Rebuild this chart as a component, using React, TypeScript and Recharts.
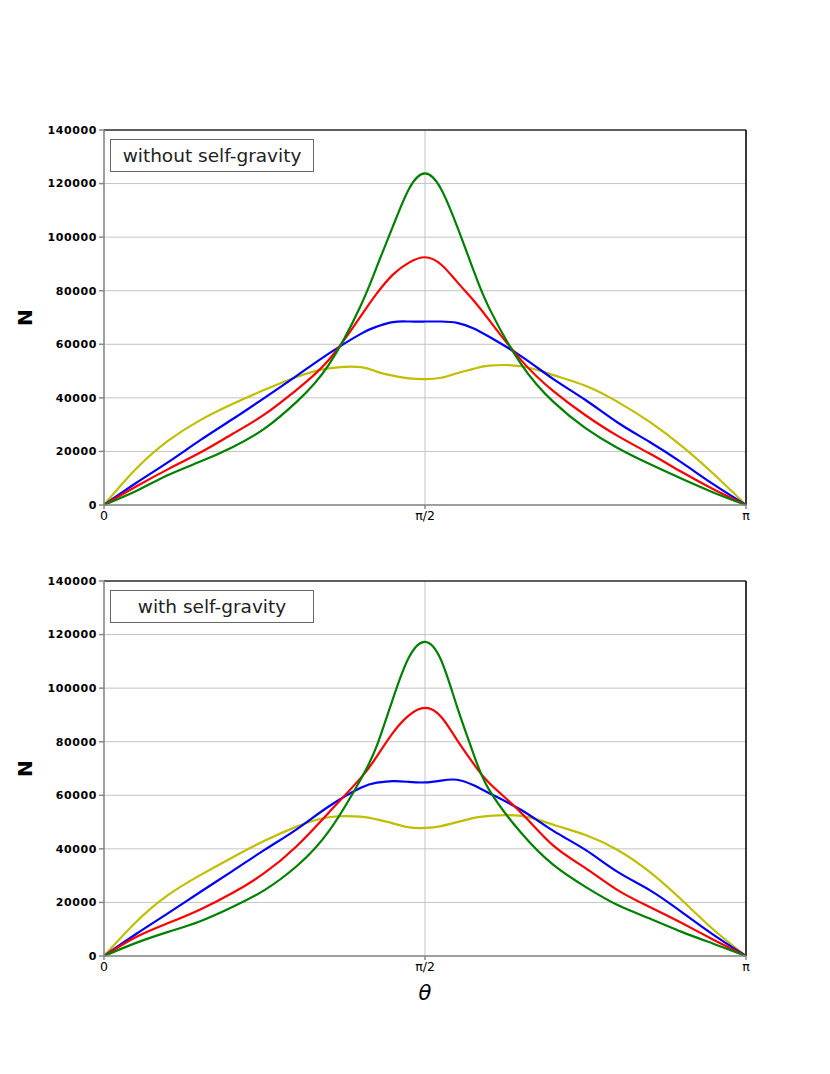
import { LineChart, Line, XAxis, YAxis, CartesianGrid, ReferenceLine } from 'recharts'

// theta in units of pi
const theta = [0, 0.05, 0.1, 0.15, 0.2, 0.25, 0.3, 0.35, 0.4, 0.425, 0.45, 0.475, 0.5, 0.525, 0.55, 0.575, 0.6, 0.65, 0.7, 0.75, 0.8, 0.85, 0.9, 0.95, 1]

// without self-gravity
const greenNoSG = [0, 5200, 11200, 16200, 21600, 28500, 38500, 52300, 74500, 89000, 104000, 118000, 123800, 118000, 104000, 88000, 73500, 52500, 38500, 28700, 21300, 15300, 9800, 4600, 0]
const redNoSG = [0, 6900, 13400, 19600, 26500, 33800, 43000, 54100, 70500, 79000, 86000, 90500, 92500, 89800, 83300, 76500, 69000, 54000, 42500, 33500, 25800, 19200, 12300, 5800, 0]
const blueNoSG = [0, 8200, 16000, 24200, 32000, 40000, 48200, 56500, 63900, 66600, 68300, 68500, 68500, 68500, 68000, 66000, 62800, 55500, 47000, 39200, 30800, 23500, 15800, 7600, 0]
const yellowNoSG = [0, 13500, 24000, 31700, 37700, 43000, 47800, 51000, 51500, 49800, 48300, 47300, 47000, 47500, 49200, 50800, 52000, 51800, 48500, 44500, 38500, 31000, 22000, 11500, 0]

// with self-gravity
const greenSG = [0, 4900, 9000, 13000, 18300, 24600, 33500, 46500, 66000, 78500, 96000, 111500, 117300, 110500, 93000, 75800, 62000, 45900, 34000, 25800, 19000, 14000, 9000, 4500, 0]
const redSG = [0, 7100, 12300, 17400, 23500, 31000, 41000, 53500, 66500, 74500, 83300, 89800, 92600, 89300, 80600, 72000, 64600, 53400, 41200, 32800, 24600, 18300, 12300, 6000, 0]
const blueSG = [0, 8200, 16000, 23900, 31700, 39600, 47300, 55800, 62800, 64700, 65300, 65000, 64800, 65500, 65800, 63800, 60800, 54500, 46700, 39600, 31400, 24600, 16400, 7800, 0]
const yellowSG = [0, 12700, 22800, 30200, 36800, 43000, 48300, 51800, 52000, 51000, 49500, 48000, 47800, 48500, 50000, 51500, 52300, 52300, 49000, 45200, 39600, 31400, 20900, 9700, 0]

const xTicks = [0, 0.5, 1]
const xTickLabels = ['0', 'π/2', 'π']
const yTicks = [0, 20000, 40000, 60000, 80000, 100000, 120000, 140000]

const FONT = 'DejaVu Sans'
const CHART_W = 830
const CHART_H = 560

function buildRows(green: number[], red: number[], blue: number[], yellow: number[]) {
  return theta.map((t, i) => ({ t, green: green[i], red: red[i], blue: blue[i], yellow: yellow[i] }))
}

function Panel({ rows, title, top, showTheta }: { rows: any[]; title: string; top: number; showTheta?: boolean }) {
  return (
    <div style={{ position: 'absolute', left: 0, top, width: CHART_W, height: CHART_H }}>
      <LineChart width={CHART_W} height={CHART_H} data={rows} margin={{ top: 130, right: 84, bottom: 5, left: 44 }}>
        <CartesianGrid stroke="#c4c4c4" strokeWidth={1} />
        <XAxis
          type="number"
          dataKey="t"
          domain={[0, 1]}
          ticks={xTicks}
          tickFormatter={(v: number) => xTickLabels[xTicks.indexOf(v)]}
          height={50}
          stroke="#888"
          strokeWidth={1.5}
          tickSize={4}
          tick={{ fill: '#000', fontSize: 12.5, fontFamily: FONT }}
          label={
            showTheta
              ? {
                  content: (p: any) => {
                    const vb = p.viewBox
                    return (
                      <text x={vb.x + vb.width / 2} y={vb.y + 37} textAnchor="middle" dominantBaseline="central" fontSize={21} fontStyle="italic" fontFamily={FONT} fill="#000">
                        θ
                      </text>
                    )
                  },
                }
              : undefined
          }
        />
        <YAxis
          type="number"
          domain={[0, 140000]}
          ticks={yTicks}
          width={60}
          stroke="#888"
          strokeWidth={1.5}
          tickSize={5}
          tick={{ fill: '#000', fontSize: 11, fontWeight: 'bold', letterSpacing: 0.6, fontFamily: FONT }}
          label={{
            content: (p: any) => {
              const vb = p.viewBox
              const cx = vb.x - 19
              const cy = vb.y + vb.height / 2
              return (
                <text x={cx} y={cy} transform={`rotate(-90 ${cx} ${cy})`} textAnchor="middle" dominantBaseline="central" fontSize={20} fontWeight="bold" fontFamily={FONT} fill="#000">
                  N
                </text>
              )
            },
          }}
        />
        <ReferenceLine y={140000} stroke="#333" strokeWidth={1.5} />
        <ReferenceLine x={1} stroke="#000" strokeWidth={1.5} />
        <Line type="natural" dataKey="yellow" stroke="#bfbf00" strokeWidth={2.2} dot={false} isAnimationActive={false} />
        <Line type="natural" dataKey="blue" stroke="#0000ff" strokeWidth={2.2} dot={false} isAnimationActive={false} />
        <Line type="natural" dataKey="red" stroke="#ff0000" strokeWidth={2.2} dot={false} isAnimationActive={false} />
        <Line type="natural" dataKey="green" stroke="#008000" strokeWidth={2.2} dot={false} isAnimationActive={false} />
      </LineChart>
      <div
        style={{
          position: 'absolute',
          left: 110,
          top: 139,
          width: 204,
          height: 33,
          border: '1px solid #666',
          background: '#fff',
          fontFamily: FONT,
          fontSize: 18.5,
          color: '#222',
          display: 'flex',
          alignItems: 'center',
          justifyContent: 'center',
          boxSizing: 'border-box',
        }}
      >
        {title}
      </div>
    </div>
  )
}

export default function App() {
  const rowsNoSG = buildRows(greenNoSG, redNoSG, blueNoSG, yellowNoSG)
  const rowsSG = buildRows(greenSG, redSG, blueSG, yellowSG)
  return (
    <div style={{ position: 'absolute', left: 0, top: 0, width: 830, height: 1074, background: '#fff' }}>
      <Panel rows={rowsNoSG} title="without self-gravity" top={0} />
      <Panel rows={rowsSG} title="with self-gravity" top={451} showTheta />
    </div>
  )
}
